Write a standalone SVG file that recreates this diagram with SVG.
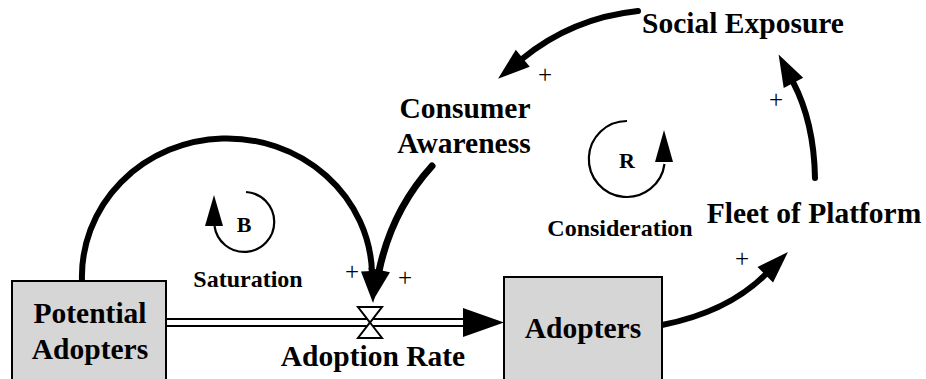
<svg xmlns="http://www.w3.org/2000/svg" width="926" height="379" viewBox="0 0 926 379" font-family="'Liberation Serif', 'Times New Roman', Times, serif">
  <style>
    .lbl { font-weight: bold; fill: #000; text-anchor: middle; }
    .big { font-size: 29.5px; }
    .mid { font-size: 24px; }
    .pol { font-size: 22px; }
    .sign { font-size: 25px; fill: #000; text-anchor: middle; }
    .stock { fill: #d6d6d6; stroke: #000; stroke-width: 2; }
    .link { fill: none; stroke: #000; stroke-width: 6; stroke-linecap: round; }
    .loop { fill: none; stroke: #000; stroke-width: 2.2; }
    .pipe { fill: none; stroke: #000; stroke-width: 2; }
    .valve { fill: #fff; stroke: #000; stroke-width: 2; stroke-linejoin: miter; }
  </style>
  <defs>
    <marker id="head" markerUnits="userSpaceOnUse" markerWidth="34" markerHeight="24" refX="1" refY="11" orient="auto" overflow="visible">
      <path d="M0,0 L32,11 L0,22 z" fill="#000"/>
    </marker>
  </defs>

  <rect width="926" height="379" fill="#fff"/>

  <!-- connectors -->
  <g id="connectors">
    <!-- material flow pipe -->
    <line class="pipe" x1="166" y1="319" x2="466" y2="319"/>
    <line class="pipe" x1="166" y1="326" x2="466" y2="326"/>
    <polygon points="463,308 504,322.5 463,337" fill="#000"/>

    <!-- causal links -->
    <path class="link" d="M 82 281 A 145 138 0 0 1 372 272" marker-end="url(#head)"/>
    <path class="link" style="stroke-width:7" d="M 432 166 Q 392 210 379 271" marker-end="url(#head)"/>
    <path class="link" d="M 638 11 Q 572 18 522 59" marker-end="url(#head)"/>
    <path class="link" d="M 815 178 Q 814 122 793 82" marker-end="url(#head)"/>
    <path class="link" d="M 662 325 Q 728 312 766 274" marker-end="url(#head)"/>

    <!-- polarity signs -->
    <text class="sign" x="352" y="280">+</text>
    <text class="sign" x="405" y="286">+</text>
    <text class="sign" x="545" y="83">+</text>
    <text class="sign" x="776" y="108">+</text>
    <text class="sign" x="742" y="267">+</text>
  </g>

  <!-- stocks -->
  <g id="potential-adopters">
    <rect class="stock" x="12" y="281" width="154" height="110"/>
    <text class="lbl big" x="90" y="323">Potential</text>
    <text class="lbl big" x="90" y="359">Adopters</text>
  </g>

  <g id="adopters">
    <rect class="stock" x="504" y="277" width="158" height="110"/>
    <text class="lbl big" x="583" y="338">Adopters</text>
  </g>

  <!-- flow valve -->
  <g id="adoption-rate">
    <polygon class="valve" points="358,307 382,307 370,322.5"/>
    <polygon class="valve" points="370,322.5 382,338 358,338"/>
    <text class="lbl big" x="373" y="366">Adoption Rate</text>
  </g>

  <!-- auxiliaries -->
  <g id="consumer-awareness">
    <text class="lbl big" x="465" y="118">Consumer</text>
    <text class="lbl big" x="464" y="153">Awareness</text>
  </g>

  <g id="social-exposure">
    <text class="lbl big" x="743" y="33">Social Exposure</text>
  </g>

  <g id="fleet-of-platform">
    <text class="lbl big" x="814" y="223">Fleet of Platform</text>
  </g>

  <!-- loop markers -->
  <g id="loop-b">
    <path class="loop" d="M 246 192 A 30 30 0 1 1 214.5 226"/>
    <polygon points="205,226 223,226 214,195" fill="#000"/>
    <text class="lbl pol" x="244" y="232">B</text>
    <text class="lbl mid" x="248" y="287">Saturation</text>
  </g>

  <g id="loop-r">
    <path class="loop" d="M 627 121 A 38 38 0 1 0 664.5 164"/>
    <polygon points="655,162 673,162 664,130" fill="#000"/>
    <text class="lbl pol" x="627" y="168">R</text>
    <text class="lbl mid" x="620" y="236">Consideration</text>
  </g>
</svg>
